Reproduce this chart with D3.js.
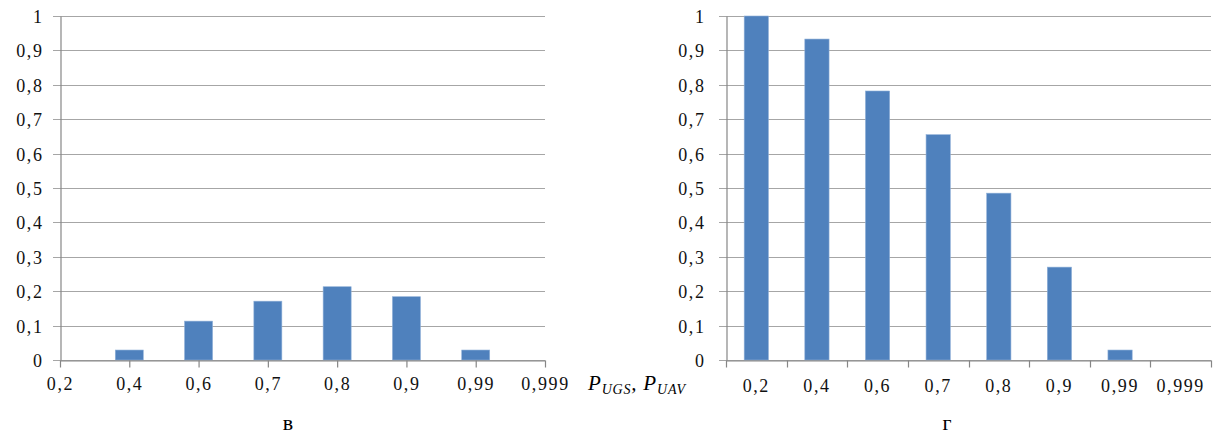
<!DOCTYPE html>
<html>
<head>
<meta charset="utf-8">
<script src="https://cdn.jsdelivr.net/npm/d3@7"></script>
<style>
  body { margin: 0; background: #fff; }
</style>
</head>
<body>
<div id="chart"></div>
<script>
// categories (x axis) shared by both panels
var categories = ["0,2", "0,4", "0,6", "0,7", "0,8", "0,9", "0,99", "0,999"];
// panel "в"
var valuesV = [0, 0.029, 0.113, 0.171, 0.213, 0.184, 0.029, 0];
// panel "г"
var valuesG = [1.0, 0.933, 0.782, 0.655, 0.485, 0.27, 0.029, 0];
// y ticks
var yTicks = [0, 0.1, 0.2, 0.3, 0.4, 0.5, 0.6, 0.7, 0.8, 0.9, 1];
var yLabels = ["0", "0,1", "0,2", "0,3", "0,4", "0,5", "0,6", "0,7", "0,8", "0,9", "1"];

var W = 1213, H = 436;
var serif = "'Liberation Serif', 'Times New Roman', 'DejaVu Serif', serif";
var barColor = "#4f81bd", gridColor = "#a6a6a6", axisColor = "#868686";

var svg = d3.select("#chart").append("svg")
    .attr("width", W).attr("height", H)
    .style("font-family", serif);

var y = d3.scaleLinear().domain([0, 1]).range([360, 16]);

function yFormat(d) { return yLabels[yTicks.indexOf(d)]; }

// make axis text look like the original (serif, slightly wide)
function styleTicks(ax) {
  ax.attr("font-family", null).attr("font-size", null);
  ax.selectAll(".tick text")
    .style("font-family", serif)
    .style("font-size", "18px")
    .style("letter-spacing", "1.6px")
    .attr("fill", "#111");
}

function drawGrid(g, x0, x1) {
  g.append("g").selectAll("line")
    .data(yTicks)
    .enter().append("line")
    .attr("x1", x0 - 7).attr("x2", x1)
    .attr("y1", function (d) { return Math.round(y(d)) + 0.5; })
    .attr("y2", function (d) { return Math.round(y(d)) + 0.5; })
    .attr("stroke", gridColor).attr("stroke-width", 1.2);
}

function drawYAxis(g, x0, pad) {
  var ax = g.append("g")
    .attr("transform", "translate(" + (x0 + 0.5) + ",0)")
    .call(d3.axisLeft(y).tickValues(yTicks).tickFormat(yFormat).tickSize(0).tickPadding(pad));
  ax.select(".domain").attr("stroke", axisColor).attr("stroke-width", 1.2);
  ax.selectAll(".tick text").attr("dy", "0.36em");
  styleTicks(ax);
}

// ---------------- panel в : categories on tick marks ----------------
var left = svg.append("g");
var xL = d3.scalePoint().domain(categories).range([60, 545]);

drawGrid(left, 60, 545);

left.append("g").selectAll("rect")
  .data(valuesV)
  .enter().append("rect")
  .attr("x", function (d, i) { return xL(categories[i]) - 14; })
  .attr("width", 28)
  .attr("y", function (d) { return y(d); })
  .attr("height", function (d) { return y(0) - y(d); })
  .attr("fill", barColor)
  .attr("stroke", "#8fb0d8").attr("stroke-width", 0.6);

var axL = left.append("g")
  .attr("transform", "translate(0," + (y(0) + 0.5) + ")")
  .call(d3.axisBottom(xL).tickSize(7).tickPadding(10).tickSizeOuter(0));
axL.select(".domain").attr("stroke", axisColor).attr("stroke-width", 1.2);
axL.selectAll(".tick line").attr("stroke", axisColor).attr("stroke-width", 1.2);
styleTicks(axL);

drawYAxis(left, 60, 17);

left.append("text")
  .attr("x", 288).attr("y", 430)
  .attr("text-anchor", "middle")
  .style("font-size", "22px")
  .text("в");

// x axis title
var title = svg.append("text")
  .attr("x", 588).attr("y", 390)
  .style("font-style", "italic")
  .style("font-size", "21px")
  .style("letter-spacing", "0.8px");
title.append("tspan").text("P");
title.append("tspan").attr("dy", 4).style("font-size", "14px").text("UGS");
title.append("tspan").attr("dy", -4).text(", P");
title.append("tspan").attr("dy", 4).style("font-size", "14px").text("UAV");

// ---------------- panel г : categories between tick marks ----------------
var right = svg.append("g");
var xR = d3.scaleBand().domain(categories).range([726, 1211]).padding(0);

drawGrid(right, 726, 1211);

var bw = xR.bandwidth() * 0.4;
right.append("g").selectAll("rect")
  .data(valuesG)
  .enter().append("rect")
  .attr("x", function (d, i) { return xR(categories[i]) + (xR.bandwidth() - bw) / 2; })
  .attr("width", bw)
  .attr("y", function (d) { return y(d); })
  .attr("height", function (d) { return y(0) - y(d); })
  .attr("fill", barColor)
  .attr("stroke", "#8fb0d8").attr("stroke-width", 0.6);

var axR = right.append("g")
  .attr("transform", "translate(0," + (y(0) + 0.5) + ")")
  .call(d3.axisBottom(xR).tickSize(0).tickPadding(19).tickSizeOuter(0));
axR.select(".domain").attr("stroke", axisColor).attr("stroke-width", 1.2);
styleTicks(axR);

// tick marks at band boundaries
var edges = categories.map(function (c) { return xR(c); }).concat([xR.range()[1]]);
axR.selectAll(".edge")
  .data(edges)
  .enter().append("line")
  .attr("class", "edge")
  .attr("x1", function (d) { return Math.round(d) + 0.5; })
  .attr("x2", function (d) { return Math.round(d) + 0.5; })
  .attr("y1", 0).attr("y2", 7)
  .attr("stroke", axisColor).attr("stroke-width", 1.2);

drawYAxis(right, 726, 21);

right.append("text")
  .attr("x", 947).attr("y", 430)
  .attr("text-anchor", "middle")
  .style("font-size", "22px")
  .text("г");
</script>
</body>
</html>
